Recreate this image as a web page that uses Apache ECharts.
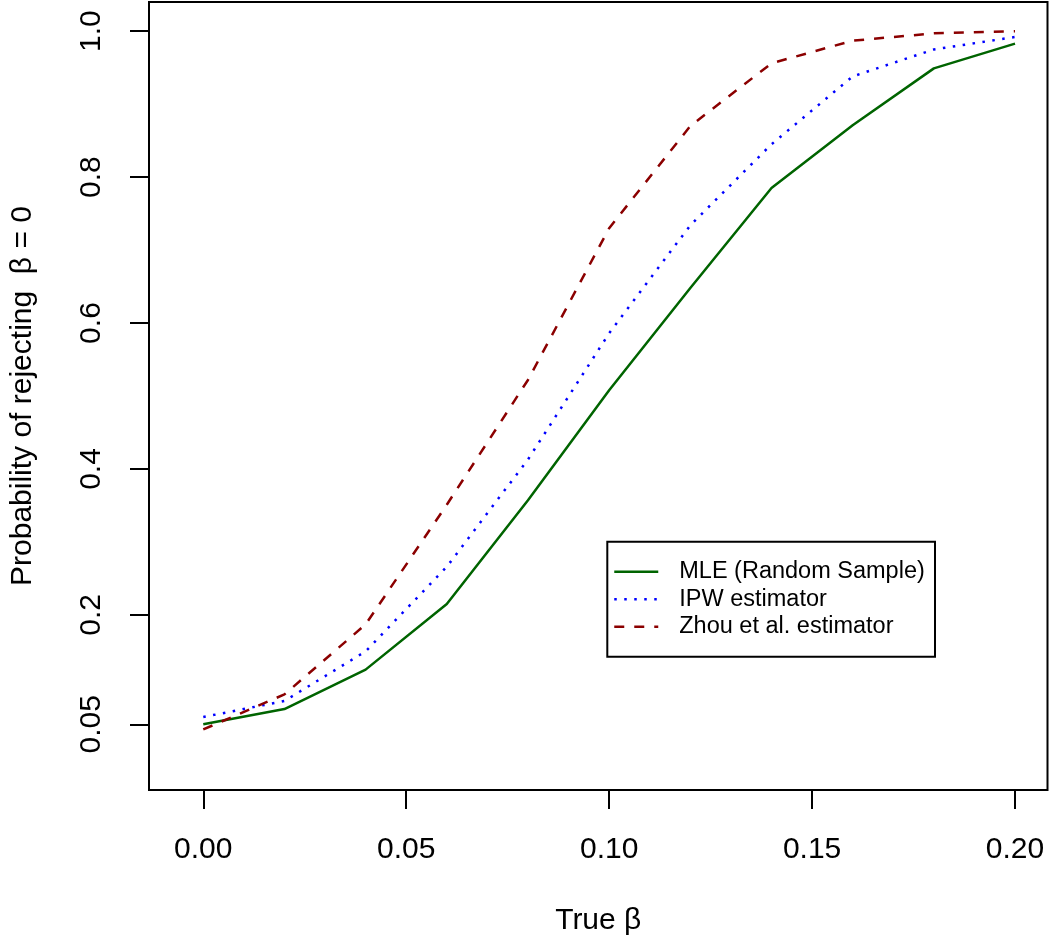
<!DOCTYPE html>
<html>
<head>
<meta charset="utf-8">
<script src="https://cdn.jsdelivr.net/npm/echarts@6/dist/echarts.min.js"></script>
<style>
html,body{margin:0;padding:0;background:#fff;}
#chart{width:1050px;height:942px;}
</style>
</head>
<body>
<div id="chart"></div>
<script>
// ---- data ----
var betas = [0.00, 0.02, 0.04, 0.06, 0.08, 0.10, 0.12, 0.14, 0.16, 0.18, 0.20];
var mle   = [0.050, 0.071, 0.125, 0.215, 0.357, 0.508, 0.648, 0.785, 0.871, 0.949, 0.983];
var ipw   = [0.060, 0.082, 0.150, 0.266, 0.413, 0.586, 0.734, 0.845, 0.938, 0.975, 0.992];
var zhou  = [0.043, 0.091, 0.187, 0.351, 0.522, 0.730, 0.870, 0.956, 0.987, 0.997, 1.000];
var seriesNames = ['MLE (Random Sample)', 'IPW estimator', 'Zhou et al. estimator'];
var xTicks = [0.00, 0.05, 0.10, 0.15, 0.20];
var yTicks = [0.05, 0.2, 0.4, 0.6, 0.8, 1.0];
var xTitle = 'True \u03b2';
var yTitle = 'Probability of rejecting  \u03b2 = 0';

function pairs(xs, ys){ return xs.map(function(x,i){ return [x, ys[i]]; }); }

var FONT = '"Liberation Sans", Arial, sans-serif';
var chart = echarts.init(document.getElementById('chart'), null, {renderer:'canvas'});
var tickStyle = {show:true, inside:false, length:19, lineStyle:{color:'#000', width:2}};

chart.setOption({
  animation:false,
  backgroundColor:'#fff',
  textStyle:{fontFamily:FONT},
  grid:{left:145.5, right:2.5, top:2, bottom:152, show:true, borderColor:'#000', borderWidth:2, backgroundColor:'transparent'},
  xAxis:{
    type:'value', min:-0.01337, max:0.208,
    axisLine:{show:false, onZero:false},
    axisTick:Object.assign({customValues:xTicks}, tickStyle),
    splitLine:{show:false},
    axisLabel:{customValues:xTicks, margin:45, fontSize:30, color:'#000', fontFamily:FONT,
      formatter:function(v){ return v.toFixed(2); }},
    name:xTitle, nameLocation:'middle', nameGap:116,
    nameTextStyle:{fontSize:30, color:'#000', fontFamily:FONT}
  },
  yAxis:{
    type:'value', min:-0.04, max:1.04,
    axisLine:{show:false, onZero:false},
    axisTick:Object.assign({customValues:yTicks}, tickStyle),
    splitLine:{show:false},
    axisLabel:{customValues:yTicks, margin:42, rotate:90, fontSize:30, color:'#000', fontFamily:FONT,
      formatter:function(v){ return Math.abs(v-0.05)<1e-9 ? '0.05' : v.toFixed(1); }},
    name:yTitle, nameLocation:'middle', nameGap:111, nameRotate:90,
    nameTextStyle:{fontSize:30, color:'#000', fontFamily:FONT}
  },
  graphic:[{type:'rect', z:1, shape:{x:607.3, y:541.7, width:327.7, height:115},
    style:{fill:'#fff', stroke:'#000', lineWidth:2}}],
  legend:{
    orient:'vertical', left:613, top:558, padding:0, itemGap:0,
    itemWidth:44, itemHeight:14, z:10,
    data:seriesNames,
    itemStyle:{opacity:0},
    lineStyle:{width:2.5},
    textStyle:{fontSize:23.5, color:'#000', fontFamily:FONT, lineHeight:27.5, padding:[0,0,0,16]}
  },
  series:[
    {name:seriesNames[0], type:'line', symbol:'none', data:pairs(betas, mle),
      lineStyle:{color:'#006400', width:2.5, type:'solid'}, itemStyle:{color:'#006400'}},
    {name:seriesNames[1], type:'line', symbol:'none', data:pairs(betas, ipw),
      lineStyle:{color:'#0000ff', width:2.5, type:[2.5,7.5], cap:'butt'}, itemStyle:{color:'#0000ff'}},
    {name:seriesNames[2], type:'line', symbol:'none', data:pairs(betas, zhou),
      lineStyle:{color:'#8b0000', width:2.5, type:[10,10], cap:'butt'}, itemStyle:{color:'#8b0000'}}
  ]
});
</script>
</body>
</html>
